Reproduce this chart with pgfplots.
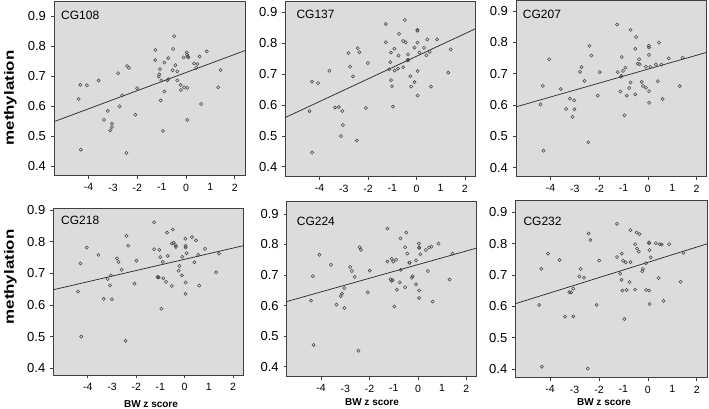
\documentclass[border=0pt]{standalone}
\usepackage{pgfplots}
\pgfplotsset{compat=1.18}
\usepackage{fontspec}
\setmainfont{Liberation Sans}

\definecolor{panelbg}{HTML}{DCDCDC}
\definecolor{frame}{HTML}{404040}
\definecolor{dots}{HTML}{484848}
\definecolor{fitline}{HTML}{2E2E2E}

\pgfplotsset{
  panel/.style={
    scale only axis,
    anchor=south west,
    xmin=-5.42, xmax=2.42,
    axis background/.style={fill=panelbg},
    axis line style={frame, line width=0.6pt},
    tick align=outside,
    major tick length=3pt,
    minor tick length=3.3pt,
    xtick pos=bottom, ytick pos=left,
    xtick={-4,-3,...,2},
    xticklabels={-4,-3,-2,-1,0,1,2},
    minor xtick={-4,-2,0,2},
    every major x tick/.append style={draw=none},
    every minor x tick/.append style={frame, line width=0.6pt},
    every major y tick/.append style={frame, line width=0.6pt},
    ytick={0.4,0.5,0.6,0.7,0.8,0.9},
    yticklabels={0.4,0.5,0.6,0.7,0.8,0.9},
    yticklabel style={font=\fontsize{13}{13}\selectfont, xshift=-1.5pt},
    xticklabel style={font=\fontsize{10.5}{10.5}\selectfont, yshift=-1.5pt},
  },
  pts/.style={only marks, mark=o, mark size=1.6pt,
    mark options={draw=dots, line width=0.55pt}},
  fit/.style={fitline, line width=0.75pt, no marks},
}
\newcommand{\paneltitle}[3]{%
  \node[anchor=west, font=\fontsize{12}{12}\selectfont, inner sep=0pt]
    at ([xshift=#1pt, yshift=-#2pt]rel axis cs:0,1) {#3};}

\begin{document}
\begin{tikzpicture}
\useasboundingbox (0pt,0pt) rectangle (709pt,409pt);

% ---------- CG108 ----------
\begin{axis}[panel, at={(54pt,233.3pt)}, width=191pt, height=174.7pt,
  ymin=0.367, ymax=0.952]
\addplot[pts] coordinates {
(-4.41,0.624) (-4.34,0.671) (-4.07,0.670) (-4.32,0.454) (-3.59,0.686)
(-3.37,0.554) (-3.21,0.584) (-3.04,0.541) (-3.04,0.530) (-3.11,0.519)
(-2.79,0.710) (-2.73,0.599) (-2.62,0.636) (-2.42,0.734) (-2.34,0.728)
(-2.45,0.443) (-2.08,0.571) (-2.01,0.660) (-1.26,0.788) (-1.26,0.754)
(-1.12,0.699) (-1.07,0.724) (-1.10,0.706) (-1.01,0.686) (-1.04,0.619)
(-0.95,0.517) (-0.89,0.746) (-0.89,0.649) (-0.77,0.686) (-0.73,0.690)
(-0.73,0.761) (-0.53,0.791) (-0.49,0.834) (-0.55,0.720) (-0.44,0.737)
(-0.36,0.716) (-0.36,0.686) (-0.23,0.671) (-0.21,0.654) (-0.08,0.663)
(-0.10,0.763) (0.03,0.780) (0.04,0.772) (0.07,0.766) (0.10,0.763)
(0.05,0.661) (0.05,0.554) (0.33,0.743) (0.42,0.728) (0.47,0.741)
(0.56,0.766) (0.62,0.607) (0.85,0.783) (1.32,0.663) (1.42,0.721)
};
\addplot[fit] coordinates {(-5.42,0.548) (2.42,0.786)};
\paneltitle{7}{14}{CG108}
\end{axis}

% ---------- CG137 ----------
\begin{axis}[panel, at={(285.3pt,232.3pt)}, width=189.7pt, height=175pt,
  ymin=0.368, ymax=0.933]
\addplot[pts] coordinates {
(-4.42,0.580) (-4.32,0.675) (-4.07,0.670) (-4.31,0.446) (-3.60,0.710)
(-3.37,0.591) (-3.21,0.593) (-3.06,0.580) (-3.04,0.535) (-3.12,0.499)
(-2.81,0.767) (-2.74,0.723) (-2.62,0.692) (-2.43,0.783) (-2.36,0.770)
(-2.46,0.485) (-2.09,0.590) (-2.01,0.735) (-1.26,0.861) (-1.26,0.802)
(-1.13,0.715) (-1.08,0.738) (-1.05,0.680) (-1.01,0.660) (-1.06,0.769)
(-0.97,0.594) (-0.91,0.781) (-0.90,0.711) (-0.76,0.717) (-0.74,0.759)
(-0.72,0.829) (-0.55,0.806) (-0.48,0.874) (-0.55,0.721) (-0.45,0.802)
(-0.35,0.763) (-0.37,0.744) (-0.33,0.745) (-0.25,0.692) (-0.22,0.659)
(-0.08,0.673) (-0.08,0.785) (0.04,0.842) (0.04,0.839) (0.04,0.801)
(0.05,0.709) (0.05,0.630) (0.12,0.769) (0.31,0.784) (0.41,0.760)
(0.45,0.811) (0.55,0.771) (0.60,0.659) (0.85,0.811) (1.31,0.704)
(1.42,0.779)
};
\addplot[fit] coordinates {(-5.42,0.559) (2.42,0.845)};
\paneltitle{11}{13}{CG137}
\end{axis}

% ---------- CG207 ----------
\begin{axis}[panel, at={(516pt,232.3pt)}, width=190.7pt, height=176pt,
  ymin=0.371, ymax=0.933]
\addplot[pts] coordinates {
(-4.41,0.602) (-4.32,0.661) (-4.06,0.746) (-4.29,0.454) (-3.58,0.651)
(-3.36,0.587) (-3.20,0.620) (-3.03,0.615) (-3.02,0.586) (-3.10,0.562)
(-2.79,0.706) (-2.73,0.721) (-2.60,0.677) (-2.40,0.789) (-2.32,0.758)
(-2.45,0.481) (-2.06,0.630) (-1.98,0.705) (-1.26,0.857) (-1.24,0.705)
(-1.13,0.643) (-1.07,0.753) (-1.08,0.693) (-1.02,0.709) (-1.11,0.690)
(-0.96,0.567) (-0.92,0.719) (-0.87,0.630) (-0.77,0.654) (-0.71,0.672)
(-0.71,0.840) (-0.52,0.779) (-0.48,0.817) (-0.52,0.634) (-0.42,0.732)
(-0.36,0.746) (-0.34,0.730) (-0.25,0.674) (-0.20,0.661) (-0.08,0.655)
(-0.08,0.722) (0.04,0.789) (0.05,0.783) (0.05,0.760) (0.10,0.722)
(0.05,0.644) (0.05,0.607) (0.33,0.729) (0.41,0.676) (0.46,0.799)
(0.56,0.729) (0.61,0.619) (0.86,0.749) (1.31,0.660) (1.43,0.751)
};
\addplot[fit] coordinates {(-5.42,0.594) (2.42,0.768)};
\paneltitle{6.7}{14}{CG207}
\end{axis}

% ---------- CG218 ----------
\begin{axis}[panel, at={(53.3pt,34pt)}, width=190pt, height=166.7pt,
  ymin=0.379, ymax=0.905]
\addplot[pts] coordinates {
(-4.40,0.642) (-4.30,0.731) (-4.04,0.781) (-4.27,0.500) (-3.56,0.758)
(-3.34,0.619) (-3.18,0.682) (-3.08,0.662) (-3.04,0.693) (-3.00,0.618)
(-2.79,0.747) (-2.73,0.736) (-2.60,0.711) (-2.40,0.818) (-2.33,0.787)
(-2.44,0.487) (-2.07,0.667) (-1.99,0.740) (-1.26,0.861) (-1.26,0.776)
(-1.12,0.688) (-1.10,0.688) (-1.05,0.774) (-1.01,0.751) (-1.07,0.687)
(-0.96,0.588) (-0.90,0.736) (-0.88,0.684) (-0.77,0.673) (-0.70,0.755)
(-0.73,0.828) (-0.53,0.794) (-0.49,0.838) (-0.53,0.660) (-0.45,0.797)
(-0.37,0.788) (-0.36,0.783) (-0.22,0.723) (-0.25,0.708) (-0.11,0.693)
(-0.10,0.752) (0.03,0.809) (0.04,0.787) (0.04,0.781) (0.08,0.763)
(0.04,0.671) (0.04,0.635) (0.30,0.814) (0.40,0.735) (0.47,0.804)
(0.56,0.758) (0.60,0.661) (0.84,0.777) (1.30,0.703) (1.42,0.762)
};
\addplot[fit] coordinates {(-5.42,0.648) (2.42,0.787)};
\paneltitle{7.7}{11.7}{CG218}
\end{axis}

% ---------- CG224 ----------
\begin{axis}[panel, at={(286.7pt,32.3pt)}, width=189.8pt, height=175pt,
  ymin=0.367, ymax=0.940]
\addplot[pts] coordinates {
(-4.42,0.616) (-4.34,0.696) (-4.07,0.766) (-4.31,0.471) (-3.59,0.733)
(-3.36,0.603) (-3.19,0.631) (-3.14,0.639) (-3.04,0.657) (-3.04,0.592)
(-2.80,0.726) (-2.73,0.713) (-2.61,0.694) (-2.41,0.791) (-2.35,0.782)
(-2.46,0.452) (-2.07,0.643) (-1.99,0.714) (-1.26,0.852) (-1.26,0.744)
(-1.13,0.686) (-1.08,0.753) (-1.02,0.744) (-1.09,0.681) (-1.04,0.683)
(-0.97,0.597) (-0.90,0.750) (-0.87,0.652) (-0.75,0.676) (-0.71,0.717)
(-0.72,0.820) (-0.53,0.791) (-0.48,0.839) (-0.53,0.660) (-0.44,0.770)
(-0.35,0.740) (-0.34,0.740) (-0.25,0.691) (-0.22,0.696) (-0.08,0.669)
(-0.08,0.748) (0.04,0.803) (0.05,0.791) (0.05,0.788) (0.10,0.768)
(0.05,0.649) (0.05,0.625) (0.33,0.782) (0.41,0.713) (0.46,0.790)
(0.56,0.793) (0.61,0.613) (0.85,0.803) (1.31,0.685) (1.43,0.770)
};
\addplot[fit] coordinates {(-5.42,0.613) (2.42,0.788)};
\paneltitle{10}{20}{CG224}
\end{axis}

% ---------- CG232 ----------
\begin{axis}[panel, at={(515.3pt,31.3pt)}, width=191.7pt, height=177.7pt,
  ymin=0.372, ymax=0.939]
\addplot[pts] coordinates {
(-4.45,0.604) (-4.36,0.719) (-4.08,0.768) (-4.33,0.407) (-3.61,0.747)
(-3.39,0.567) (-3.21,0.645) (-3.14,0.644) (-3.05,0.656) (-3.05,0.568)
(-2.80,0.695) (-2.75,0.719) (-2.61,0.691) (-2.42,0.832) (-2.35,0.811)
(-2.46,0.401) (-2.09,0.604) (-1.99,0.746) (-1.26,0.863) (-1.26,0.757)
(-1.13,0.704) (-1.07,0.768) (-1.08,0.684) (-1.01,0.745) (-1.04,0.650)
(-0.96,0.559) (-0.90,0.740) (-0.87,0.652) (-0.75,0.677) (-0.71,0.741)
(-0.71,0.843) (-0.52,0.798) (-0.46,0.835) (-0.52,0.653) (-0.44,0.784)
(-0.37,0.774) (-0.34,0.830) (-0.23,0.712) (-0.20,0.719) (-0.08,0.737)
(-0.07,0.652) (0.05,0.804) (0.05,0.801) (0.07,0.779) (0.12,0.756)
(0.05,0.650) (0.07,0.607) (0.33,0.801) (0.44,0.690) (0.49,0.798)
(0.56,0.797) (0.64,0.617) (0.87,0.798) (1.34,0.678) (1.46,0.770)
};
\addplot[fit] coordinates {(-5.42,0.608) (2.42,0.799)};
\paneltitle{8}{21.7}{CG232}
\end{axis}

% ---------- shared labels ----------
\node[rotate=90, font=\bfseries\fontsize{13.5}{13.5}\selectfont]
  at (10.5pt,311pt) {\scalebox{1.25}[1]{methylation}};
\node[rotate=90, font=\bfseries\fontsize{13.5}{13.5}\selectfont]
  at (10.5pt,132pt) {\scalebox{1.25}[1]{methylation}};
\node[font=\bfseries\fontsize{10}{10}\selectfont] at (151pt,5pt) {BW z score};
\node[font=\bfseries\fontsize{10}{10}\selectfont] at (372pt,7pt) {BW z score};
\node[font=\bfseries\fontsize{10}{10}\selectfont] at (604pt,7pt) {BW z score};
\end{tikzpicture}
\end{document}
